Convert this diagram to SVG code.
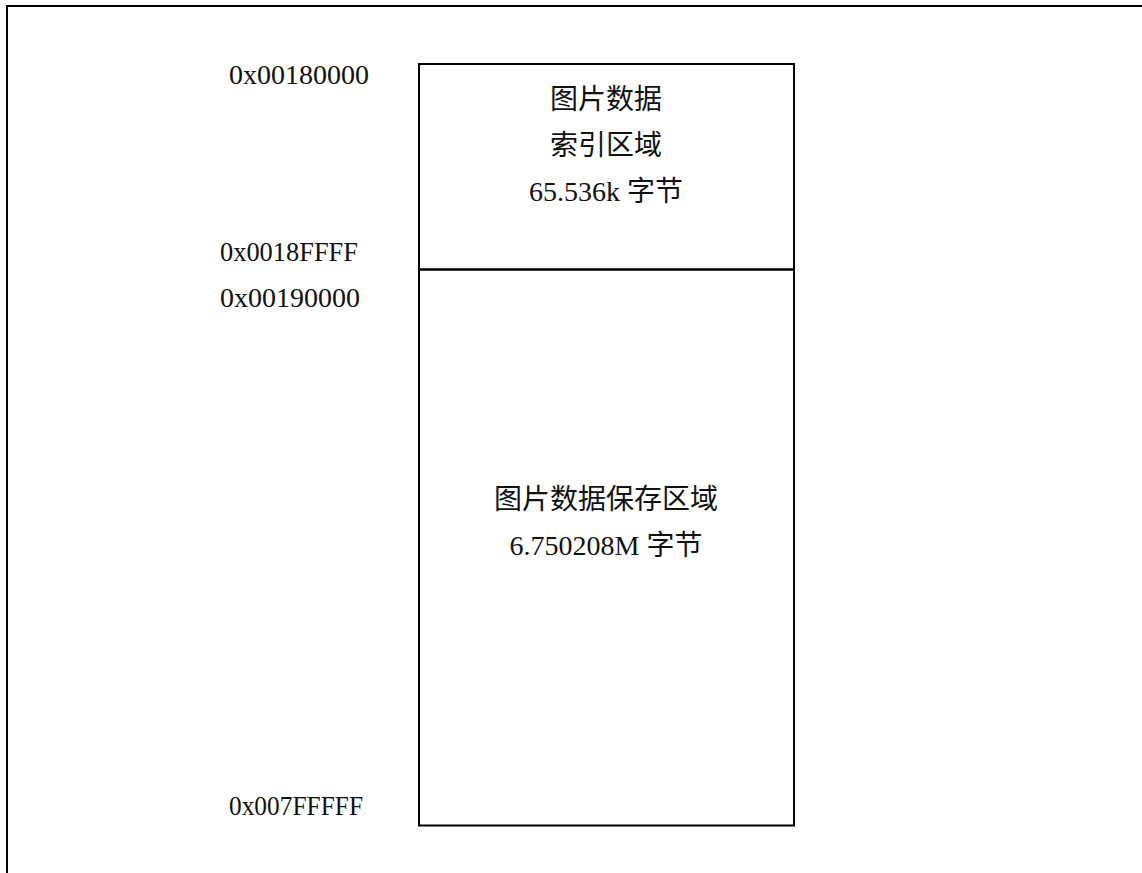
<svg xmlns="http://www.w3.org/2000/svg" width="1142" height="873" viewBox="0 0 1142 873">
<style>
.t{font-family:"Liberation Serif","Noto Sans CJK SC",serif;font-size:28px;fill:#111}
.c{text-anchor:middle}
.b{fill:none;stroke:#000;stroke-width:2}
</style>
<rect width="1142" height="873" fill="#fff"/>
<path class="b" d="M7,873 V6 H1142"/>
<g id="index-region">
<rect class="b" x="419" y="64" width="375" height="205.5"/>
<text class="t c" x="606" y="109">图片数据</text>
<text class="t c" x="606" y="155">索引区域</text>
<text class="t c" x="606" y="201">65.536k 字节</text>
</g>
<g id="data-region">
<rect class="b" x="419" y="269.5" width="375" height="556"/>
<text class="t c" x="606" y="509">图片数据保存区域</text>
<text class="t c" x="606" y="555">6.750208M 字节</text>
</g>
<g id="addresses">
<text class="t" x="229" y="84">0x00180000</text>
<text class="t" x="220" y="261" textLength="138" lengthAdjust="spacingAndGlyphs">0x0018FFFF</text>
<text class="t" x="220" y="307">0x00190000</text>
<text class="t" x="229" y="815" textLength="134" lengthAdjust="spacingAndGlyphs">0x007FFFFF</text>
</g>
<g id="connectors"></g>
</svg>
